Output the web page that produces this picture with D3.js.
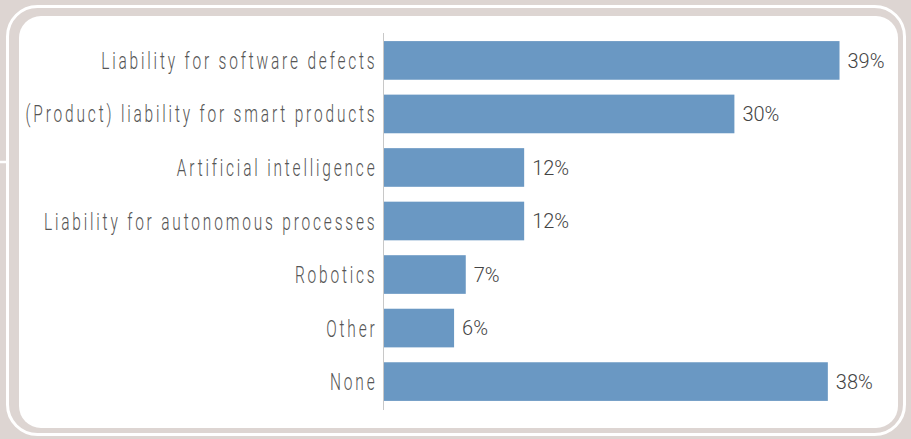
<!DOCTYPE html>
<html>
<head>
<meta charset="utf-8">
<script src="https://cdn.jsdelivr.net/npm/d3@7"></script>
<style>
html,body{margin:0;padding:0;background:#ddd5d2;}
svg{display:block;}
</style>
</head>
<body>
<svg id="chart" width="911" height="439"></svg>
<script>
const categories = [
  "Liability for software defects",
  "(Product) liability for smart products",
  "Artificial intelligence",
  "Liability for autonomous processes",
  "Robotics",
  "Other",
  "None"
];
const values = [39, 30, 12, 12, 7, 6, 38];
const valueLabels = ["39%", "30%", "12%", "12%", "7%", "6%", "38%"];

const svg = d3.select("#chart");
const W = 911, H = 439;

// frame
svg.append("rect").attr("width", W).attr("height", H).attr("fill", "#ddd5d2");
svg.append("line").attr("x1", 0).attr("x2", 9).attr("y1", 162).attr("y2", 162)
  .attr("stroke", "#fff").attr("stroke-width", 2.5);
svg.append("rect").attr("x", 7.5).attr("y", 6.5).attr("width", 897).attr("height", 428)
  .attr("rx", 30).attr("fill", "none").attr("stroke", "#fff").attr("stroke-width", 3);
svg.append("rect").attr("x", 19).attr("y", 16).attr("width", 879).attr("height", 412)
  .attr("rx", 22).attr("fill", "#fff");

const x0 = 384;
const x = d3.scaleLinear().domain([0, 10]).range([x0, x0 + 116.8]);
const y = d3.scaleBand().domain(categories).range([32, 410]).paddingInner(0.278).paddingOuter(0.17);

const g = svg.append("g");

g.selectAll("rect.bar").data(values).join("rect")
  .attr("class", "bar")
  .attr("x", x(0))
  .attr("y", (d, i) => y(categories[i]))
  .attr("width", d => x(d) - x(0))
  .attr("height", y.bandwidth())
  .attr("fill", "#6a98c3");

// axis
const yAxis = d3.axisLeft(y).tickSize(0).tickPadding(6);
const ax = g.append("g").attr("transform", `translate(${x0 - 0.5},0)`).call(yAxis);
ax.select(".domain").attr("stroke", "#c8c8c8").attr("stroke-width", 1)
  .attr("d", `M0,33V410`);
const labels = ax.selectAll("text")
  .attr("font-family", "Roboto, sans-serif")
  .attr("font-weight", 300)
  .attr("font-size", 23)
  .attr("letter-spacing", "4.2px")
  .attr("fill", "#555")
  .attr("dy", "0.37em");
// condense horizontally so the longest label spans the same width as in the original
let maxW = 0;
labels.each(function () { maxW = Math.max(maxW, this.getComputedTextLength()); });
const s = 352 / maxW;
labels.attr("transform", `scale(${s},1)`).attr("x", -6 / s);

// value labels
g.selectAll("text.val").data(values).join("text")
  .attr("class", "val")
  .attr("x", d => x(d) + 8)
  .attr("y", (d, i) => y(categories[i]) + y.bandwidth() / 2)
  .attr("dy", "0.36em")
  .attr("font-family", "Roboto, sans-serif")
  .attr("font-weight", 300)
  .attr("font-size", 20)
  .attr("fill", "#444")
  .text((d, i) => valueLabels[i]);
</script>
</body>
</html>
